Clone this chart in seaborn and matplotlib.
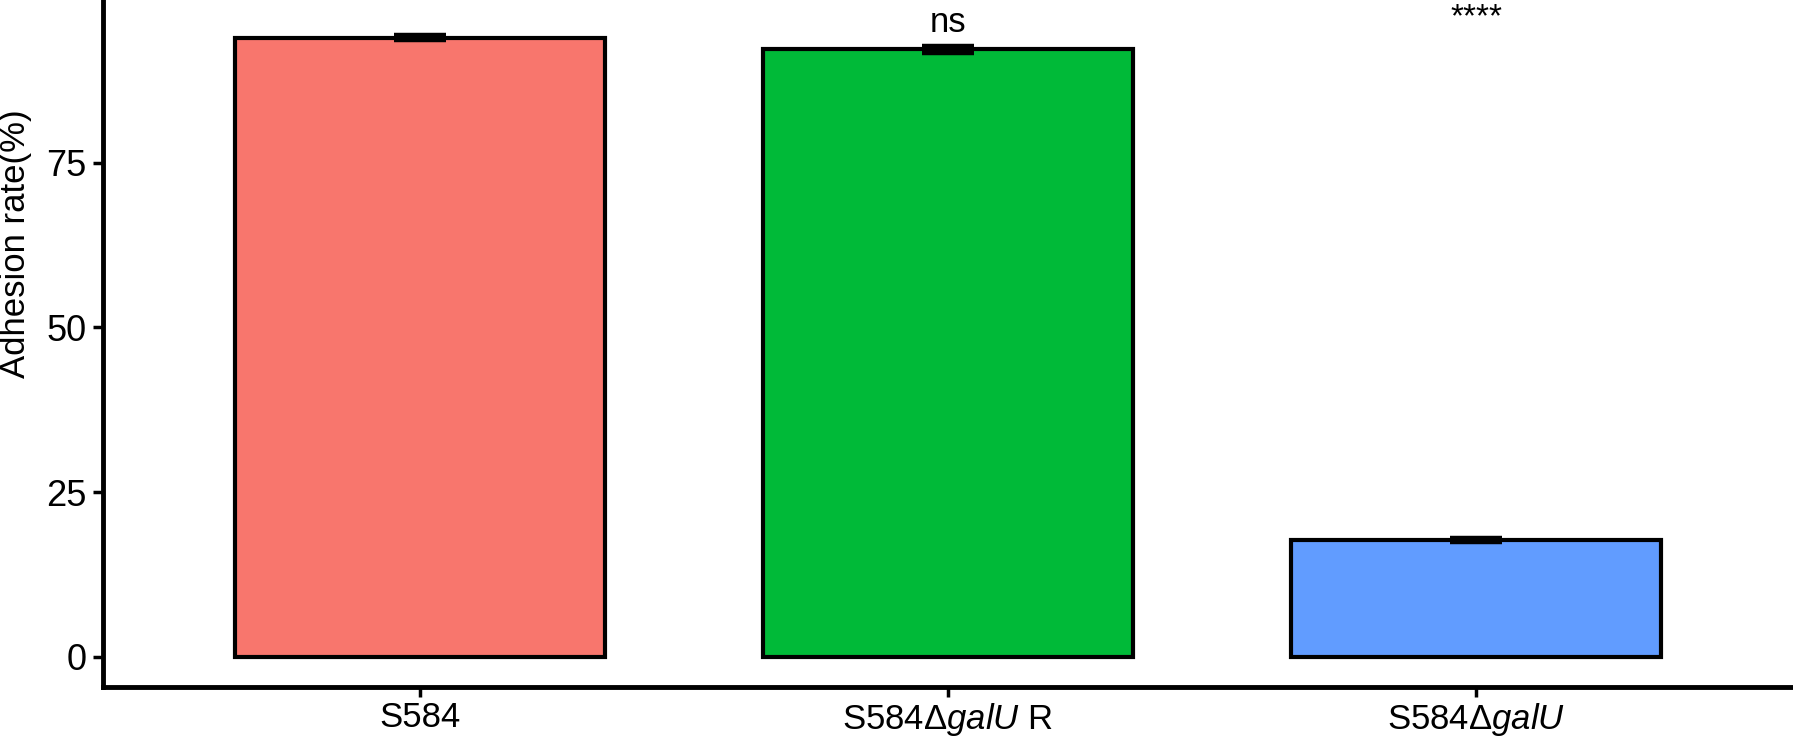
import numpy as np
import pandas as pd
import matplotlib
matplotlib.use("Agg")
import matplotlib.pyplot as plt
import seaborn as sns

# data
strains = ["S584", "S584Δ$\\it{galU}$ R", "S584Δ$\\it{galU}$"]
adhesion_mean = [94.0, 92.2, 17.7]
adhesion_se = [0.4, 0.55, 0.3]
signif_labels = ["", "ns", "****"]
signif_y = [0, 96.3, 97.0]
bar_colors = ["#F8766D", "#00BA38", "#619CFF"]


def plot_data(df):
    sns.set_style("white")
    plt.rcParams["font.family"] = ["Liberation Sans", "DejaVu Sans"]
    plt.rcParams["mathtext.fontset"] = "custom"
    plt.rcParams["mathtext.rm"] = "Liberation Sans"
    plt.rcParams["mathtext.it"] = "Liberation Sans:italic"
    plt.rcParams["text.color"] = "black"
    plt.rcParams["axes.labelcolor"] = "black"

    fig = plt.figure(figsize=(17.93, 7.40), dpi=100)
    ax = fig.add_axes([0.0574, 0.0716, 0.9426, 0.9284])

    sns.barplot(data=df, x="strain", y="rate", hue="strain",
                palette=bar_colors, width=0.7, edgecolor="black",
                linewidth=3, errorbar=None, legend=False, ax=ax,
                saturation=1)

    # error bars (mean ± se)
    xs = np.arange(len(df))
    ax.errorbar(xs, df["rate"], yerr=df["se"], fmt="none", ecolor="black",
                elinewidth=3.2, capsize=19, capthick=3.2, zorder=5)

    # significance labels
    for i, (lab, yy) in enumerate(zip(signif_labels, signif_y)):
        if lab:
            fs = 25 if lab == "ns" else 24
            ax.text(i, yy, lab, ha="center", va="center", fontsize=fs,
                    color="black")

    ax.set_xlim(-0.6, 2.6)
    ax.set_ylim(-4.6, 99.7)
    ax.set_yticks([0, 25, 50, 75])
    ax.set_xlabel("")
    ax.set_ylabel("Adhesion rate(%)", fontsize=25, color="black")
    # the panel in the original is cropped at the top, so the label sits high
    ax.yaxis.label.set_va("center")
    ax.yaxis.set_label_coords(-0.052, 0.646)

    sns.despine(ax=ax)
    for side in ["left", "bottom"]:
        ax.spines[side].set_linewidth(3.5)
        ax.spines[side].set_color("black")
    ax.tick_params(axis="both", which="both", direction="out", length=7,
                   width=2.5, colors="black", labelcolor="black",
                   labelsize=26, pad=5, left=True, bottom=True)
    ax.tick_params(axis="x", pad=3, labelsize=25)

    fig.savefig("out.png", dpi=100)


def main():
    df = pd.DataFrame({"strain": strains, "rate": adhesion_mean,
                       "se": adhesion_se})
    plot_data(df)


if __name__ == "__main__":
    main()
